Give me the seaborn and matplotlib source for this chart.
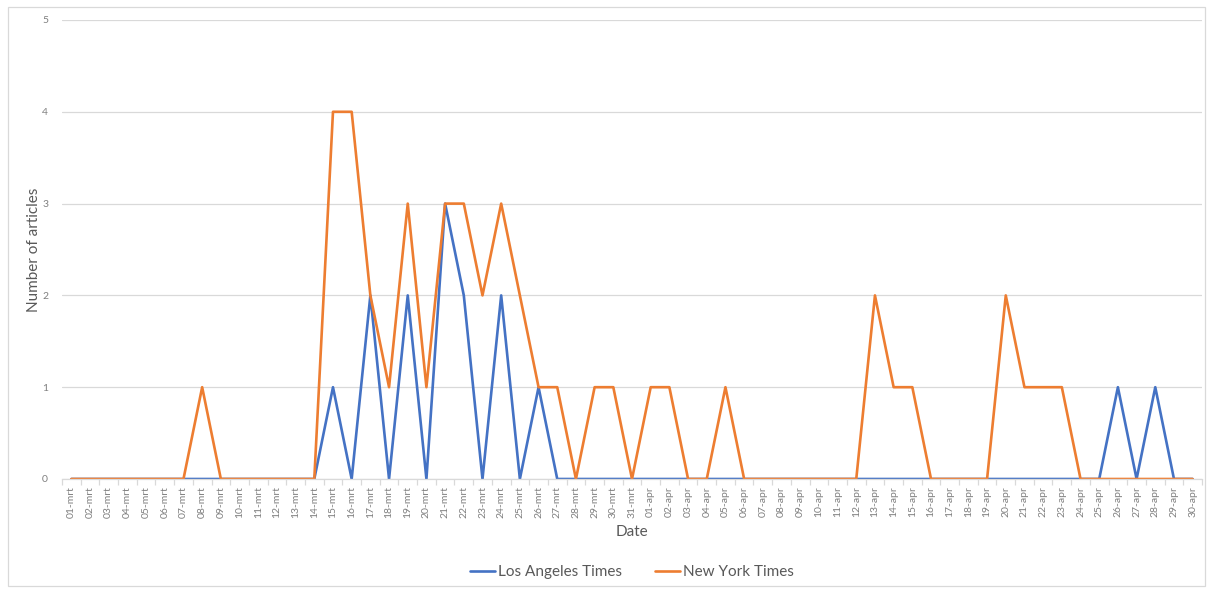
import pandas as pd
import seaborn as sns
import matplotlib.pyplot as plt
from matplotlib.patches import Rectangle
from matplotlib.ticker import FixedLocator

# dates: 01-mrt .. 31-mrt, 01-apr .. 30-apr
dates = [f"{d:02d}-mrt" for d in range(1, 32)] + [f"{d:02d}-apr" for d in range(1, 31)]

la_times = [0, 0, 0, 0, 0, 0, 0, 0, 0, 0,
            0, 0, 0, 0, 1, 0, 2, 0, 2, 0,
            3, 2, 0, 2, 0, 1, 0, 0, 0, 0,
            0,
            0, 0, 0, 0, 0, 0, 0, 0, 0, 0,
            0, 0, 0, 0, 0, 0, 0, 0, 0, 0,
            0, 0, 0, 0, 0, 1, 0, 1, 0, 0]

ny_times = [0, 0, 0, 0, 0, 0, 0, 1, 0, 0,
            0, 0, 0, 0, 4, 4, 2, 1, 3, 1,
            3, 3, 2, 3, 2, 1, 1, 0, 1, 1,
            0,
            1, 1, 0, 0, 1, 0, 0, 0, 0, 0,
            0, 0, 2, 1, 1, 0, 0, 0, 0, 2,
            1, 1, 1, 0, 0, 0, 0, 0, 0, 0]

series = ["Los Angeles Times", "New York Times"]
colors = ["#4472C4", "#ED7D31"]

rows = []
for name, vals in zip(series, [la_times, ny_times]):
    for i, v in enumerate(vals):
        rows.append({"pos": i, "date": dates[i], "count": v, "paper": name})
df = pd.DataFrame(rows)

sns.set_style("white")
plt.rcParams["font.family"] = ["Lato", "DejaVu Sans"]
grey = "#595959"
light = "#7F7F7F"

fig = plt.figure(figsize=(12.13, 5.9), dpi=100)
ax = fig.add_axes([62 / 1213, 1 - 479 / 590, 1140 / 1213, 459 / 590])

sns.lineplot(data=df, x="pos", y="count", hue="paper", hue_order=series,
             palette=colors, linewidth=1.9, ax=ax, legend=True)

ax.set_xlim(-0.5, len(dates) - 0.5)
ax.set_ylim(0, 5)
ax.set_yticks(range(0, 6))
ax.yaxis.grid(True, color="#D9D9D9", linewidth=0.9)
ax.xaxis.grid(False)
for s in ["top", "right", "left"]:
    ax.spines[s].set_visible(False)
ax.spines["bottom"].set_color("#D9D9D9")
ax.spines["bottom"].set_linewidth(0.9)

ax.set_xticks(range(len(dates)))
ax.set_xticklabels(dates, rotation=90, fontsize=7.5, color=light)
ax.xaxis.set_minor_locator(FixedLocator([i - 0.5 for i in range(len(dates) + 1)]))
ax.tick_params(axis="x", which="major", length=0, pad=5)
ax.tick_params(axis="x", which="minor", length=4, color="#D9D9D9", width=0.9, bottom=True)
ax.tick_params(axis="y", length=0, pad=10, labelsize=7.5, labelcolor=light)

ax.set_xlabel("Date", fontsize=11, color=grey)
ax.xaxis.set_label_coords(0.5, -0.1)
ax.set_ylabel("Number of articles", fontsize=11, color=grey)
ax.yaxis.set_label_coords(-0.018, 0.5)

handles, labels = ax.get_legend_handles_labels()
ax.legend(handles, labels, loc="center", bbox_to_anchor=(632 / 1213, 1 - 572 / 590),
          bbox_transform=fig.transFigure, ncol=2, frameon=False, fontsize=11,
          handlelength=1.6, handletextpad=0.2, columnspacing=2.2, labelcolor=grey)

fig.patches.append(Rectangle((8 / 1213, 4 / 590), 1197 / 1213, 579 / 590,
                             transform=fig.transFigure, fill=False,
                             edgecolor="#D9D9D9", linewidth=0.9))

fig.savefig("out.png", dpi=100)
